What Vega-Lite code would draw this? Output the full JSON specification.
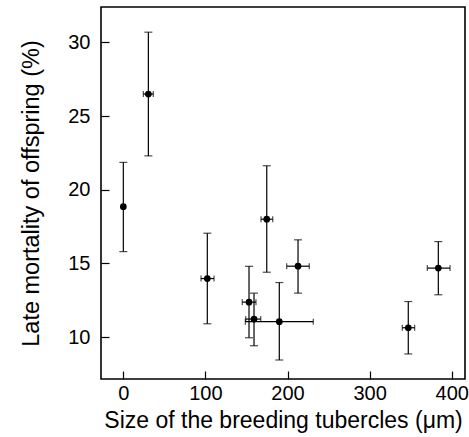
{
  "$schema": "https://vega.github.io/schema/vega-lite/v6.json",
  "width": 364,
  "height": 372,
  "autosize": {"type": "none"},
  "padding": {"left": 101, "right": 4, "top": 7, "bottom": 58},
  "background": "white",
  "config": {
    "view": {"stroke": "black", "strokeWidth": 1.6},
    "font": "Liberation Sans",
    "axis": {
      "grid": false,
      "domain": false,
      "tickColor": "black",
      "tickSize": -8,
      "tickWidth": 1.2,
      "labelColor": "black",
      "titleColor": "black",
      "labelFont": "Liberation Sans",
      "titleFont": "Liberation Sans",
      "labelFontSize": 20,
      "titleFontSize": 23,
      "titleFontWeight": "normal"
    }
  },
  "data": {
    "values": [
      {"x": 0, "y": 18.85, "ylo": 15.8, "yhi": 21.86, "xlo": 0, "xhi": 0},
      {"x": 30.5, "y": 26.5, "ylo": 22.3, "yhi": 30.7, "xlo": 24.4, "xhi": 36.5},
      {"x": 102.3, "y": 13.97, "ylo": 10.9, "yhi": 17.05, "xlo": 94.6, "xhi": 110.5},
      {"x": 153.1, "y": 12.37, "ylo": 9.95, "yhi": 14.8, "xlo": 144.9, "xhi": 161.6},
      {"x": 159.2, "y": 11.22, "ylo": 9.41, "yhi": 12.98, "xlo": 149.1, "xhi": 167.4},
      {"x": 174.7, "y": 18.0, "ylo": 14.4, "yhi": 21.63, "xlo": 167.7, "xhi": 182.0},
      {"x": 190.0, "y": 11.04, "ylo": 8.44, "yhi": 13.7, "xlo": 148.6, "xhi": 231.4},
      {"x": 212.8, "y": 14.81, "ylo": 12.98, "yhi": 16.6, "xlo": 199.0, "xhi": 226.5},
      {"x": 347.1, "y": 10.63, "ylo": 8.85, "yhi": 12.41, "xlo": 339.8, "xhi": 354.9},
      {"x": 383.7, "y": 14.68, "ylo": 12.87, "yhi": 16.48, "xlo": 370.3, "xhi": 398.0}
    ]
  },
  "encoding": {
    "x": {
      "field": "x", "type": "quantitative",
      "scale": {"domain": [-27.2, 416.2], "nice": false, "zero": false},
      "axis": {"values": [0, 100, 200, 300, 400], "title": "Size of the breeding tubercles (μm)", "labelPadding": 12, "titlePadding": 6}
    },
    "y": {
      "field": "y", "type": "quantitative",
      "scale": {"domain": [7.15, 32.41], "nice": false, "zero": false},
      "axis": {"values": [10, 15, 20, 25, 30], "title": "Late mortality of offspring (%)", "labelPadding": 19, "titlePadding": 24, "titleFontSize": 23.5}
    }
  },
  "layer": [
    {
      "mark": {"type": "rule", "color": "black", "strokeWidth": 1.2},
      "encoding": {"y": {"field": "ylo", "type": "quantitative"}, "y2": {"field": "yhi"}}
    },
    {
      "mark": {"type": "tick", "orient": "horizontal", "color": "black", "size": 8, "thickness": 1.2},
      "encoding": {"y": {"field": "yhi", "type": "quantitative"}}
    },
    {
      "mark": {"type": "tick", "orient": "horizontal", "color": "black", "size": 8, "thickness": 1.2},
      "encoding": {"y": {"field": "ylo", "type": "quantitative"}}
    },
    {
      "transform": [{"filter": "datum.xhi > datum.xlo"}],
      "layer": [
        {
          "mark": {"type": "rule", "color": "black", "strokeWidth": 1.2},
          "encoding": {"x": {"field": "xlo", "type": "quantitative"}, "x2": {"field": "xhi"}}
        },
        {
          "mark": {"type": "tick", "orient": "vertical", "color": "black", "size": 6, "thickness": 1.2},
          "encoding": {"x": {"field": "xlo", "type": "quantitative"}}
        },
        {
          "mark": {"type": "tick", "orient": "vertical", "color": "black", "size": 6, "thickness": 1.2},
          "encoding": {"x": {"field": "xhi", "type": "quantitative"}}
        }
      ]
    },
    {
      "mark": {"type": "point", "shape": "circle", "filled": true, "color": "black", "opacity": 1, "size": 45}
    }
  ]
}
